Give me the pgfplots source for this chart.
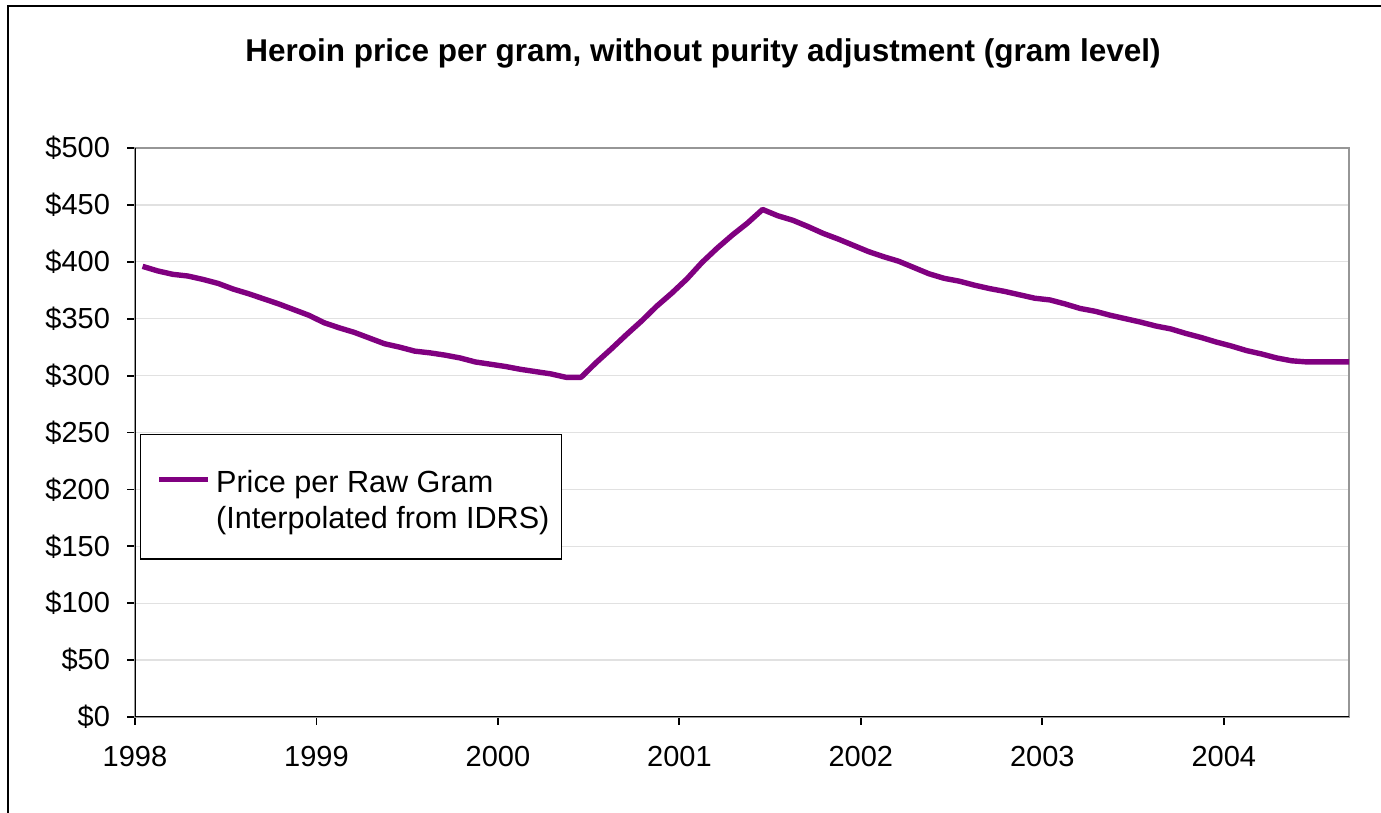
\documentclass[border=0pt]{standalone}
\usepackage{pgfplots}
\pgfplotsset{compat=1.18}
\usepackage{fontspec}
\setmainfont{Liberation Sans}
\definecolor{linepurple}{RGB}{128,0,128}
\definecolor{gridgray}{RGB}{225,225,225}
\definecolor{boxgray}{RGB}{150,150,150}
\pgfplotstableread{
x v
1998.0417 396
1998.1250 392
1998.2083 389
1998.2917 387.5
1998.3750 384.5
1998.4583 381
1998.5417 376
1998.6250 372
1998.7083 367.5
1998.7917 363
1998.8750 358
1998.9583 353
1999.0417 346.5
1999.1250 342
1999.2083 338
1999.2917 333
1999.3750 328
1999.4583 325
1999.5417 321.5
1999.6250 320
1999.7083 318
1999.7917 315.5
1999.8750 312
1999.9583 310
2000.0417 308
2000.1250 305.5
2000.2083 303.5
2000.2917 301.5
2000.3750 298.5
2000.4583 298.5
2000.5417 311.5
2000.6250 323.5
2000.7083 336
2000.7917 348
2000.8750 361
2000.9583 372.5
2001.0417 385
2001.1250 399.5
2001.2083 412
2001.2917 423.5
2001.3750 434
2001.4583 446
2001.5417 440.5
2001.6250 436.5
2001.7083 431
2001.7917 425
2001.8750 420
2001.9583 414.5
2002.0417 409
2002.1250 404.5
2002.2083 400.5
2002.2917 395
2002.3750 389.5
2002.4583 385.5
2002.5417 383
2002.6250 379.5
2002.7083 376.5
2002.7917 374
2002.8750 371
2002.9583 368
2003.0417 366.5
2003.1250 363
2003.2083 359
2003.2917 356.5
2003.3750 353
2003.4583 350
2003.5417 347
2003.6250 343.6
2003.7083 341
2003.7917 337
2003.8750 333.5
2003.9583 329.5
2004.0417 326
2004.1250 322
2004.2083 319
2004.2917 315.5
2004.3750 313
2004.4583 312
2004.5417 312
2004.6250 312
2004.7083 312
}\pricedata
\begin{document}
\begin{tikzpicture}
\useasboundingbox (0,0) rectangle (690.5pt,406.5pt);
\fill[white] (0,0) rectangle (690.5pt,406.5pt);
\draw[line width=1pt] (4.15pt,-5pt) -- (4.15pt,403.65pt) -- (700pt,403.65pt);
\begin{axis}[
  at={(67.5pt,48pt)}, anchor=south west,
  scale only axis, width=607pt, height=284.5pt,
  xmin=1998, xmax=2004.69, ymin=0, ymax=500,
  xtick={1998,1999,2000,2001,2002,2003,2004},
  ytick={0,50,...,500},
  tick align=outside, tick pos=left,
  major tick length=4pt,
  every tick/.style={black, line width=0.9pt},
  axis line style={boxgray, line width=0.8pt},
  ymajorgrids, grid style={gridgray, line width=0.6pt},
  /pgf/number format/assume math mode=true,
  /pgf/number format/1000 sep={},
  xticklabel style={font=\fontsize{14.5}{17}\selectfont, yshift=-7pt},
  yticklabel style={font=\fontsize{14.5}{17}\selectfont, xshift=-5pt},
  yticklabel={\$\pgfmathprintnumber{\tick}},
  title={Heroin price per gram, without purity adjustment (gram level)},
  title style={at={(0.4679,1.145)}, anchor=center, font=\bfseries\fontsize{15.75}{18}\selectfont},
  legend style={at={(0.0041,0.4974)}, anchor=north west, draw=black, line width=0.75pt, fill=white,
    inner xsep=4pt, inner ysep=12pt, font=\fontsize{15.3}{18}\selectfont,
    cells={align=left}},
  legend cell align=left,
  legend image code/.code={\path (0pt,0pt) (29pt,0pt); \draw[#1] (4pt,8.75pt) -- (28.5pt,8.75pt);},
]
\addplot[linepurple, line width=2.7pt, line join=round] table[x=x, y=v] {\pricedata};
\addlegendentry{\rule{0pt}{14.7pt}Price per Raw Gram\\(Interpolated from IDRS)}
\draw[black, line width=1pt] (rel axis cs:0,1) -- (rel axis cs:0,0) -- (rel axis cs:1,0);
\end{axis}
\end{tikzpicture}
\end{document}
